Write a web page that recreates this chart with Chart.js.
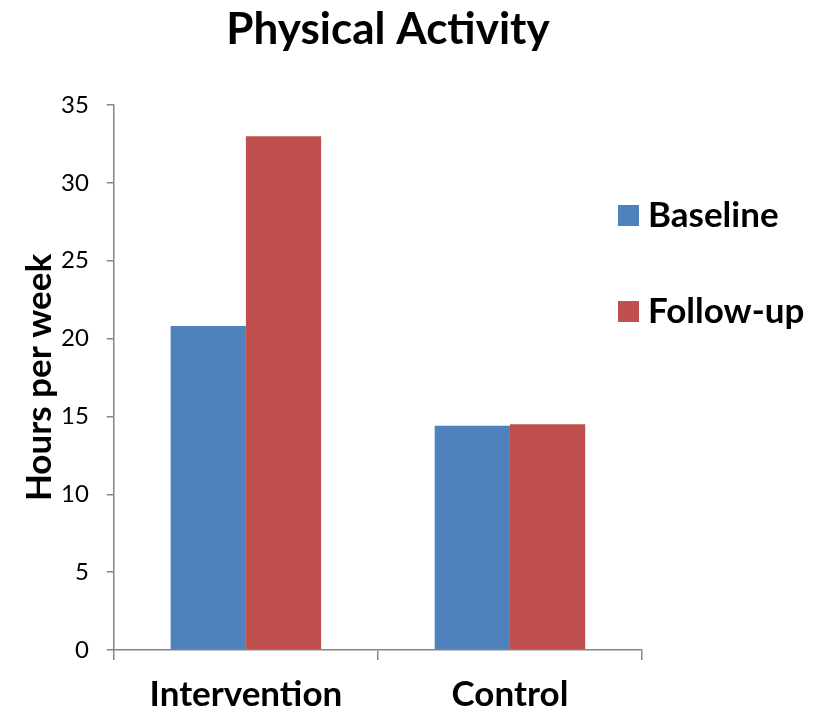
<!DOCTYPE html>
<html>
<head>
<meta charset="utf-8">
<script src="https://cdn.jsdelivr.net/npm/chart.js@4.4.0/dist/chart.umd.min.js"></script>
<style>
  html, body { margin: 0; padding: 0; background: #fff; }
  #wrap { width: 819px; height: 711px; }
</style>
</head>
<body>
<div id="wrap"><canvas id="activityChart" width="819" height="711"></canvas></div>
<script>
const categories = ['Intervention', 'Control'];
const baselineHours = [20.8, 14.4];
const followUpHours = [33.0, 14.5];
const seriesNames = ['Baseline', 'Follow-up'];
const seriesColors = ['#4F81BD', '#C0504D'];
const chartTitle = 'Physical Activity';

const FONT = 'Lato, "Open Sans", sans-serif';

// title + legend drawn by hand so they can sit where the original has them
const decorations = {
    id: 'decorations',
    afterDraw(chart) {
        const ctx = chart.ctx;
        ctx.save();
        ctx.fillStyle = '#000';
        ctx.textAlign = 'center';
        ctx.textBaseline = 'middle';
        ctx.font = 'bold 44px ' + FONT;
        ctx.fillText(chartTitle, 388, 30);

        ctx.textAlign = 'left';
        ctx.font = 'bold 35px ' + FONT;
        chart.data.datasets.forEach((ds, i) => {
            const y = 216 + i * 96;
            ctx.fillStyle = ds.backgroundColor;
            ctx.fillRect(618, y - 11, 21, 21);
            ctx.fillStyle = '#000';
            ctx.fillText(ds.label, 648, y);
        });
        ctx.restore();
    }
};

const ctx = document.getElementById('activityChart').getContext('2d');
new Chart(ctx, {
    type: 'bar',
    data: {
        labels: categories,
        datasets: [
            { label: seriesNames[0], data: baselineHours, backgroundColor: seriesColors[0] },
            { label: seriesNames[1], data: followUpHours, backgroundColor: seriesColors[1] }
        ]
    },
    options: {
        responsive: false,
        animation: false,
        layout: { padding: { left: 19, right: 177, top: 105, bottom: 0 } },
        datasets: {
            bar: { categoryPercentage: 0.57, barPercentage: 1.0, borderWidth: 0 }
        },
        scales: {
            x: {
                afterFit(scale) { scale.height = 61; },
                grid: { drawOnChartArea: false, color: '#868686', tickLength: 10, lineWidth: 1.5 },
                border: { color: '#868686', width: 1.5 },
                ticks: { color: '#000', font: { family: FONT, size: 35, weight: 'bold', lineHeight: 1 }, padding: 17 }
            },
            y: {
                min: 0,
                max: 35,
                ticks: { stepSize: 5, color: '#000', font: { family: FONT, size: 24 }, padding: 18 },
                grid: { drawOnChartArea: false, color: '#868686', tickLength: 7, lineWidth: 1.5 },
                border: { color: '#868686', width: 1.5 },
                title: {
                    display: true,
                    text: 'Hours per week',
                    color: '#000',
                    font: { family: FONT, size: 35, weight: 'bold' },
                    padding: { top: 0, bottom: -18 }
                }
            }
        },
        plugins: {
            legend: { display: false },
            tooltip: { enabled: false },
            title: { display: false }
        }
    },
    plugins: [decorations]
});
</script>
</body>
</html>
